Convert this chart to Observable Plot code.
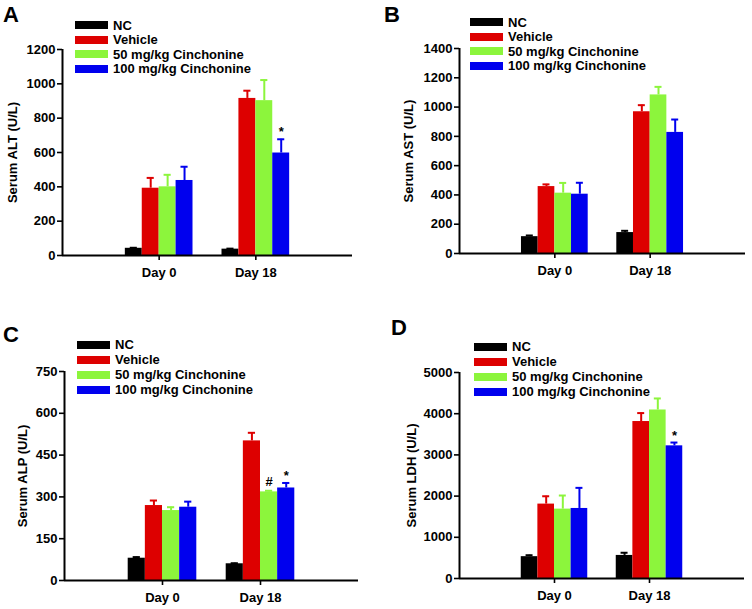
<!DOCTYPE html>
<html><head><meta charset="utf-8">
<script src="https://cdn.jsdelivr.net/npm/d3@7"></script>
<script src="https://cdn.jsdelivr.net/npm/@observablehq/plot@0.6"></script>
<style>
html,body{margin:0;padding:0;background:#fff;}
#root{position:relative;width:752px;height:609px;font-family:'Liberation Sans',Arial,sans-serif;overflow:hidden;background:#fff;}
.panel{position:absolute;}
.letter{position:absolute;font-size:22px;font-weight:bold;line-height:1;color:#000;}
.legend{position:absolute;font-size:13px;font-weight:bold;color:#000;}
.row{position:absolute;left:0;display:flex;align-items:center;white-space:nowrap;height:14px;}
.sw{display:inline-block;width:33px;height:8px;margin-right:5px;}
svg [aria-label^="y-axis"] path, svg [aria-label^="y-axis"] line,
svg [aria-label^="x-axis"] path, svg [aria-label^="x-axis"] line {stroke-width:1.6;}
</style>
</head><body>
<div id="root"></div>
<script>
// ---- data ----
const days = ["Day 0", "Day 18"];
const groups = ["NC", "Vehicle", "50 mg/kg Cinchonine", "100 mg/kg Cinchonine"];
const colors = ["#000000", "#dd0000", "#8cf53c", "#0000ee"];

const altDay0 = [42, 392, 400, 437];
const altDay0Err = [3, 60, 70, 80];
const altDay18 = [37, 915, 902, 597];
const altDay18Err = [3, 45, 120, 80];

const astDay0 = [115, 457, 412, 405];
const astDay0Err = [8, 15, 70, 78];
const astDay18 = [143, 968, 1083, 827];
const astDay18Err = [12, 45, 55, 88];

const alpDay0 = [80, 269, 251, 263];
const alpDay0Err = [4, 18, 12, 20];
const alpDay18 = [60, 501, 318, 332];
const alpDay18Err = [2, 29, 4, 18];

const ldhDay0 = [530, 1806, 1684, 1700];
const ldhDay0Err = [35, 190, 330, 500];
const ldhDay18 = [560, 3810, 4090, 3220];
const ldhDay18Err = [65, 205, 280, 80];

const altTicks = [0, 200, 400, 600, 800, 1000, 1200];
const astTicks = [0, 200, 400, 600, 800, 1000, 1200, 1400];
const alpTicks = [0, 150, 300, 450, 600, 750];
const ldhTicks = [0, 1000, 2000, 3000, 4000, 5000];

const altMarks = [{day: 1, group: 3, label: "*"}];
const astMarks = [];
const alpMarks = [{day: 1, group: 2, label: "#"}, {day: 1, group: 3, label: "*"}];
const ldhMarks = [{day: 1, group: 3, label: "*"}];

// ---- layout ----
const panels = [
  {letter: "A", title: "Serum ALT (U/L)", vals: [altDay0, altDay18], errs: [altDay0Err, altDay18Err], ticks: altTicks, notes: altMarks,
   left: 0, top: 0, width: 376, height: 290, mt: 49, mb: 35, ml: 62, mr: 24, lo: 55,
   lx: 3, ly: 4, gx: 75, gy: 25, gs: 14.5},
  {letter: "B", title: "Serum AST (U/L)", vals: [astDay0, astDay18], errs: [astDay0Err, astDay18Err], ticks: astTicks, notes: astMarks,
   left: 376, top: 0, width: 376, height: 290, mt: 48, mb: 37, ml: 83, mr: 7, lo: 56,
   lx: 8, ly: 4, gx: 94, gy: 22, gs: 14.6},
  {letter: "C", title: "Serum ALP (U/L)", vals: [alpDay0, alpDay18], errs: [alpDay0Err, alpDay18Err], ticks: alpTicks, notes: alpMarks,
   left: 0, top: 305, width: 376, height: 304, mt: 66, mb: 29, ml: 64, mr: 18, lo: 47,
   lx: 3, ly: 19, gx: 77, gy: 39.5, gs: 15},
  {letter: "D", title: "Serum LDH (U/L)", vals: [ldhDay0, ldhDay18], errs: [ldhDay0Err, ldhDay18Err], ticks: ldhTicks, notes: ldhMarks,
   left: 376, top: 305, width: 376, height: 304, mt: 67, mb: 31, ml: 83, mr: 8, lo: 53,
   lx: 15, ly: 12, gx: 98, gy: 41.7, gs: 15}
];

const groupSpan = 0.7;            // fraction of a category step taken by the 4 bars
const bw = groupSpan / groups.length;
const capHalf = bw * 0.21;

const root = document.getElementById("root");

for (const p of panels) {
  const rows = [];
  days.forEach((d, di) => {
    groups.forEach((g, gi) => {
      const c = (di + 1) + (gi - (groups.length - 1) / 2) * bw;
      rows.push({day: d, group: g, v: p.vals[di][gi], e: p.errs[di][gi], c, x1: c - bw / 2, x2: c + bw / 2});
    });
  });
  const notes = p.notes.map(n => {
    const r = rows.find(r => r.day === days[n.day] && r.group === groups[n.group]);
    return {c: r.c, y: r.v + r.e, label: n.label};
  });
  const ymax = p.ticks[p.ticks.length - 1];

  const chart = Plot.plot({
    width: p.width, height: p.height,
    marginTop: p.mt, marginBottom: p.mb, marginLeft: p.ml, marginRight: p.mr,
    style: {fontFamily: "'Liberation Sans', Arial, sans-serif", fontSize: "13px", fontWeight: "bold", color: "#000", background: "transparent", overflow: "visible"},
    x: {domain: [0, 3], ticks: [1, 2], tickFormat: t => days[t - 1], tickSize: 5, tickPadding: 7, label: null},
    y: {domain: [0, ymax], ticks: p.ticks, tickFormat: t => String(t), tickSize: 5, tickPadding: 2,
        label: p.title, labelAnchor: "center", labelOffset: p.lo, labelArrow: "none"},
    color: {domain: groups, range: colors},
    marks: [
      Plot.rect(rows, {x1: "x1", x2: "x2", y1: () => 0, y2: "v", fill: "group"}),
      Plot.ruleX(rows, {x: "c", y1: "v", y2: d => d.v + d.e, stroke: "group", strokeWidth: 2}),
      Plot.ruleY(rows, {y: d => d.v + d.e, x1: d => d.c - capHalf, x2: d => d.c + capHalf, stroke: "group", strokeWidth: 2}),
      Plot.text(notes, {x: "c", y: "y", text: "label", fontSize: 13, fontWeight: "bold"}),
      Plot.ruleY([0], {stroke: "#000", strokeWidth: 2}),
      Plot.ruleX([0], {stroke: "#000", strokeWidth: 2})
    ]
  });
  // annotation offsets: "#" sits a bit above the cap, "*" glyph sits high in its box
  chart.querySelectorAll('[aria-label="text"] text').forEach((t, i) => {
    const lab = notes[i] ? notes[i].label : t.textContent;
    t.setAttribute("dy", lab === "#" ? "-9" : "-7");
  });

  const wrap = document.createElement("div");
  wrap.className = "panel";
  wrap.style.left = p.left + "px";
  wrap.style.top = p.top + "px";
  wrap.style.width = p.width + "px";
  wrap.style.height = p.height + "px";
  wrap.appendChild(chart);

  const letter = document.createElement("div");
  letter.className = "letter";
  letter.textContent = p.letter;
  letter.style.left = p.lx + "px";
  letter.style.top = p.ly + "px";
  wrap.appendChild(letter);

  const legend = document.createElement("div");
  legend.className = "legend";
  legend.style.left = p.gx + "px";
  legend.style.top = "0px";
  groups.forEach((g, i) => {
    const row = document.createElement("div");
    row.className = "row";
    row.style.top = (p.gy + i * p.gs - 7) + "px";
    const sw = document.createElement("span");
    sw.className = "sw";
    sw.style.background = colors[i];
    const tx = document.createElement("span");
    tx.textContent = g;
    row.appendChild(sw);
    row.appendChild(tx);
    legend.appendChild(row);
  });
  wrap.appendChild(legend);

  root.appendChild(wrap);
}
</script>
</body></html>
